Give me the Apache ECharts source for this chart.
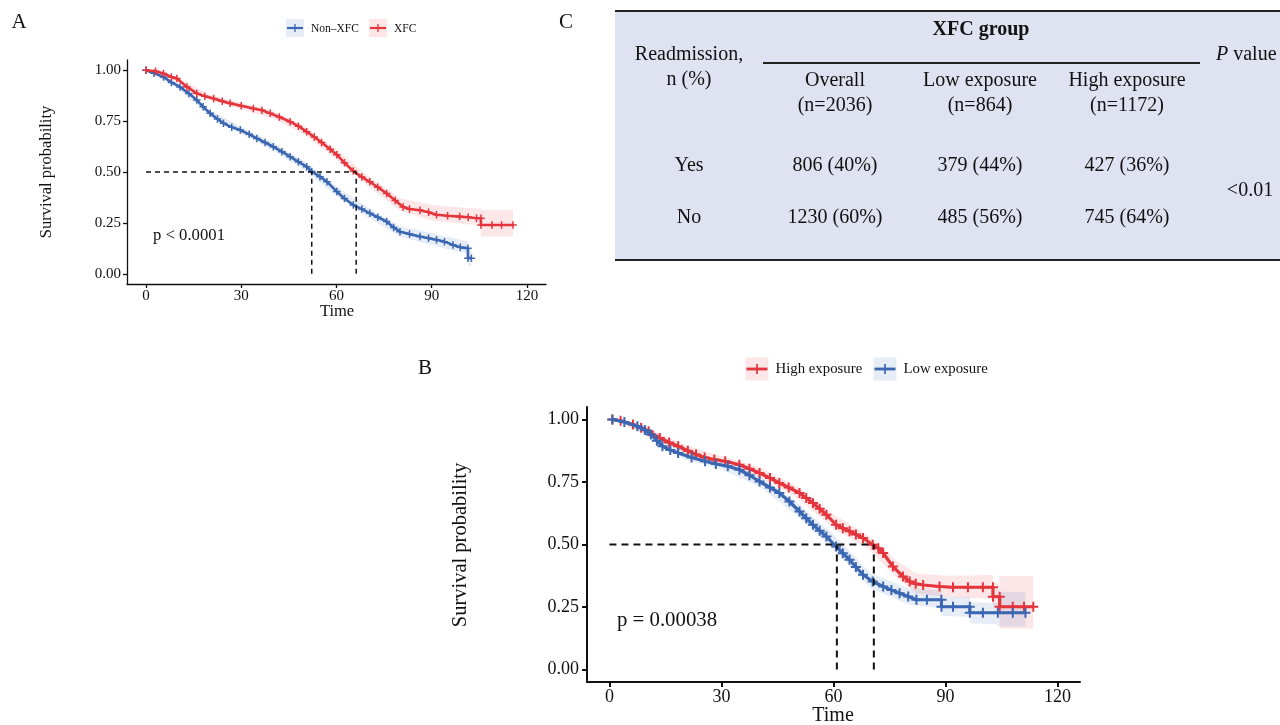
<!DOCTYPE html>
<html>
<head>
<meta charset="utf-8">
<script src="https://cdn.jsdelivr.net/npm/echarts@6/dist/echarts.min.js"></script>
<style>html,body{margin:0;padding:0;background:#fff;}#c{width:1280px;height:725px;}</style>
</head>
<body>
<div id="c"></div>
<script>
// ---------- data ----------
const tickX = [0, 30, 60, 90, 120];
const tickY = [0, 0.25, 0.5, 0.75, 1];

// Panel A
const aXfcT = [0, 3, 5.5, 8, 9.7, 12.9, 16, 18.5, 21.3, 24, 26.5, 30, 33.8, 36.5, 39.1, 42, 45.4, 48, 50.6, 53, 55.3, 58, 60.1, 62.5, 65.3, 68, 70.5, 73, 75.8, 78.5, 81, 83, 86.3, 89, 91.5, 95, 98.8, 101.5, 104.1, 105.5, 105.5, 109, 112, 115.6];
const aXfcS = [1.0, 0.995, 0.984, 0.967, 0.959, 0.918, 0.886, 0.872, 0.861, 0.848, 0.837, 0.825, 0.812, 0.803, 0.788, 0.770, 0.747, 0.725, 0.698, 0.672, 0.645, 0.612, 0.585, 0.545, 0.505, 0.475, 0.452, 0.425, 0.395, 0.36, 0.328, 0.318, 0.312, 0.302, 0.29, 0.285, 0.281, 0.278, 0.273, 0.273, 0.24, 0.24, 0.24, 0.24];
const aNonT = [0, 2.5, 5.5, 8, 10.7, 13.5, 16, 18, 20.2, 22.5, 24.4, 27, 29.7, 32.5, 34.9, 37.5, 40.1, 42.8, 45.4, 48, 50.6, 52.2, 54.8, 57, 60.1, 62.5, 65.3, 68, 70.5, 73, 75.8, 78, 80, 83, 86.3, 89, 91.5, 94, 96.7, 99, 101.4, 101.4, 102.5];
const aNonS = [1.0, 0.985, 0.967, 0.94, 0.918, 0.885, 0.853, 0.82, 0.788, 0.76, 0.739, 0.72, 0.706, 0.685, 0.665, 0.645, 0.624, 0.60, 0.575, 0.55, 0.526, 0.502, 0.477, 0.452, 0.404, 0.37, 0.338, 0.318, 0.297, 0.278, 0.257, 0.228, 0.207, 0.195, 0.183, 0.175, 0.167, 0.158, 0.142, 0.13, 0.126, 0.077, 0.077];
// confidence bands: [time, lower, upper]
const aXfcBand = [[0,1,1],[10,0.948,0.968],[20,0.853,0.878],[30,0.808,0.84],[40,0.763,0.80],[50,0.683,0.725],[60,0.563,0.61],[70,0.43,0.48],[80,0.31,0.372],[90,0.262,0.338],[100,0.245,0.325],[105.5,0.24,0.32],[105.5,0.183,0.314],[115.6,0.183,0.314]];
const aNonBand = [[0,1,1],[10,0.91,0.935],[20,0.775,0.805],[30,0.688,0.722],[40,0.605,0.645],[50,0.508,0.55],[60,0.382,0.43],[70,0.275,0.325],[80,0.183,0.233],[90,0.142,0.2],[97,0.112,0.175],[101.4,0.098,0.16],[101.4,0.04,0.125],[102.5,0.04,0.125]];
const aMedians = [52.2, 66.2];

// Panel B
const bHighT = [0.8, 3, 6.3, 8.5, 10.5, 13.5, 16, 18.4, 21, 23.2, 25.5, 28.1, 31, 34.8, 37.5, 40.2, 43, 45.5, 48, 50.9, 52.7, 54.5, 56.3, 58.1, 60.7, 62.5, 64.3, 66, 67.9, 70.5, 72, 73.3, 75.9, 78.6, 80.4, 82, 84, 88.4, 92, 96, 100, 102.7, 102.7, 104.5, 104.5, 108, 111, 113.5];
const bHighS = [1.0, 0.995, 0.98, 0.967, 0.953, 0.926, 0.908, 0.893, 0.875, 0.86, 0.848, 0.84, 0.833, 0.819, 0.803, 0.786, 0.766, 0.746, 0.728, 0.706, 0.686, 0.666, 0.643, 0.619, 0.579, 0.565, 0.553, 0.54, 0.526, 0.499, 0.485, 0.466, 0.412, 0.372, 0.352, 0.343, 0.338, 0.332, 0.329, 0.329, 0.329, 0.329, 0.291, 0.291, 0.251, 0.251, 0.251, 0.251];
const bLowT = [0.8, 4, 7.5, 9.5, 11.1, 12.7, 14.2, 16.3, 18.4, 22, 25.6, 28.5, 31.7, 34.8, 37.5, 40.2, 43, 45.5, 48.2, 50.9, 52.7, 54.5, 56.3, 58.1, 60.7, 62.5, 64.3, 66, 67.9, 70.5, 73.3, 75.5, 77.7, 80, 82.2, 85, 88.9, 88.9, 92, 96.5, 96.5, 100, 104, 108, 111.4];
const bLowS = [1.0, 0.99, 0.973, 0.958, 0.94, 0.915, 0.893, 0.878, 0.866, 0.848, 0.833, 0.822, 0.813, 0.799, 0.777, 0.752, 0.728, 0.706, 0.672, 0.632, 0.605, 0.579, 0.555, 0.532, 0.492, 0.465, 0.439, 0.41, 0.379, 0.352, 0.332, 0.318, 0.305, 0.292, 0.279, 0.279, 0.279, 0.251, 0.251, 0.251, 0.227, 0.227, 0.227, 0.227, 0.227];
const bHighBand = [[0.8,1,1],[10,0.942,0.968],[20,0.868,0.9],[30,0.818,0.853],[40,0.77,0.81],[50,0.69,0.735],[60,0.565,0.62],[70,0.475,0.53],[76,0.38,0.445],[82,0.305,0.385],[90,0.29,0.375],[102.7,0.283,0.378],[102.7,0.245,0.345],[104.5,0.245,0.345],[104.5,0.164,0.374],[113.5,0.164,0.374]];
const bLowBand = [[0.8,1,1],[10,0.938,0.965],[20,0.842,0.875],[30,0.8,0.837],[40,0.733,0.775],[50,0.618,0.67],[60,0.48,0.54],[70,0.325,0.385],[80,0.26,0.325],[88.9,0.245,0.315],[88.9,0.215,0.29],[96.5,0.21,0.29],[96.5,0.185,0.27],[104,0.18,0.265],[104,0.172,0.31],[111.4,0.172,0.31]];
const bMedians = [60.9, 70.8];

// Table C
const tableCols = ['Overall', 'Low exposure', 'High exposure'];
const tableNs = ['(n=2036)', '(n=864)', '(n=1172)'];
const tableRows = ['Yes', 'No'];
const tableYes = ['806 (40%)', '379 (44%)', '427 (36%)'];
const tableNo = ['1230 (60%)', '485 (56%)', '745 (64%)'];
const tablePValue = '<0.01';

// ---------- styles ----------
const FONT = '"Liberation Serif", "Times New Roman", serif';
const RED = '#E4343C';
const BLUE = '#3B67B2';
const RED_BAND = 'rgba(228,52,60,0.12)';
const BLUE_BAND = 'rgba(59,103,178,0.12)';
const PLUS = 'path://M4,0H6V4H10V6H6V10H4V6H0V4H4Z';

const zip = (t, s) => t.map((v, i) => [v, s[i]]);

function bandSeries(band, color, gi) {
  return {
    type: 'custom', xAxisIndex: gi, yAxisIndex: gi, z: 1, silent: true,
    data: band, encode: { x: 0, y: [1, 2] },
    renderItem: function (params, api) {
      if (params.dataIndex !== 0) return null;
      const pts = [];
      for (let i = 0; i < band.length; i++) pts.push(api.coord([band[i][0], band[i][2]]));
      for (let i = band.length - 1; i >= 0; i--) pts.push(api.coord([band[i][0], band[i][1]]));
      return { type: 'polygon', shape: { points: pts }, style: { fill: color } };
    }
  };
}
function curveSeries(name, t, s, color, gi, size, width, z) {
  return {
    name: name, type: 'line', xAxisIndex: gi, yAxisIndex: gi, z: z,
    data: zip(t, s), symbol: PLUS, symbolSize: size, showAllSymbol: true,
    lineStyle: { color: color, width: width }, itemStyle: { color: color },
    emphasis: { disabled: true }
  };
}
function dashSeries(pts, gi, width, dash) {
  return {
    type: 'line', xAxisIndex: gi, yAxisIndex: gi, z: 5, data: pts, symbol: 'none',
    lineStyle: { color: '#111', width: width, type: dash }, silent: true
  };
}
function medianSeries(meds, gi, width, dash) {
  const out = [dashSeries([[0, 0.5], [Math.max(...meds), 0.5]], gi, width, dash)];
  meds.forEach(m => out.push(dashSeries([[m, 0], [m, 0.5]], gi, width, dash)));
  return out;
}
function xAx(gi, fs, margin, lw, tl) {
  return {
    type: 'value', gridIndex: gi, min: -6, max: 126,
    axisLine: { onZero: false, lineStyle: { color: '#111', width: lw } },
    axisTick: { customValues: tickX, length: tl, lineStyle: { color: '#111', width: lw } },
    axisLabel: { customValues: tickX, fontFamily: FONT, fontSize: fs, color: '#111', margin: margin },
    splitLine: { show: false }
  };
}
function yAx(gi, fs, margin, lw, tl) {
  return {
    type: 'value', gridIndex: gi, min: -0.05, max: 1.05,
    axisLine: { show: true, onZero: false, lineStyle: { color: '#111', width: lw } },
    axisTick: { show: true, customValues: tickY, length: tl, lineStyle: { color: '#111', width: lw } },
    axisLabel: { customValues: tickY, fontFamily: FONT, fontSize: fs, color: '#111', margin: margin,
      formatter: v => v.toFixed(2) },
    splitLine: { show: false }
  };
}
function txt(text, x, y, size, opts) {
  return Object.assign({
    type: 'text', x: x, y: y, silent: true,
    style: Object.assign({ text: text, fontFamily: FONT, fontSize: size, fill: '#111',
      textAlign: 'center', textVerticalAlign: 'middle' }, (opts && opts.style) || {})
  }, (opts && opts.el) || {});
}
function legendItem(cx, cy, sq, color, band, label, fs, lw) {
  return [
    { type: 'rect', shape: { x: cx - sq / 2, y: cy - sq / 2, width: sq, height: sq }, style: { fill: band }, silent: true },
    { type: 'line', shape: { x1: cx - sq / 2 + 1, y1: cy, x2: cx + sq / 2 - 1, y2: cy }, style: { stroke: color, lineWidth: lw }, silent: true },
    { type: 'line', shape: { x1: cx, y1: cy - sq * 0.22, x2: cx, y2: cy + sq * 0.22 }, style: { stroke: color, lineWidth: lw * 0.6 }, silent: true },
    txt(label, cx + sq / 2 + 7, cy + 0.5, fs, { style: { textAlign: 'left' } })
  ];
}

// ---------- graphic (labels, legends, table) ----------
const g = [];
g.push(txt('A', 19, 22, 21));
g.push(txt('B', 425, 368, 21));
g.push(txt('C', 566, 22, 21));
// legends
g.push(...legendItem(295, 28, 18, BLUE, BLUE_BAND, 'Non\u2013XFC', 11.5, 2.2));
g.push(...legendItem(378, 28, 18, RED, RED_BAND, 'XFC', 11.5, 2.2));
g.push(...legendItem(757, 369, 23, RED, RED_BAND, 'High exposure', 14.8, 2.8));
g.push(...legendItem(885, 369, 23, BLUE, BLUE_BAND, 'Low exposure', 14.8, 2.8));
// axis titles
g.push(txt('Survival probability', 47, 172, 16.5, { el: { rotation: Math.PI / 2 } }));
g.push(txt('Time', 337, 312, 16.5));
g.push(txt('Survival probability', 461, 545, 20.5, { el: { rotation: Math.PI / 2 } }));
g.push(txt('Time', 833, 716, 20));
// p values
g.push(txt('p < 0.0001', 153, 236, 16.7, { style: { textAlign: 'left' } }));
g.push(txt('p = 0.00038', 617, 621, 20.8, { style: { textAlign: 'left' } }));
// table
g.push({ type: 'rect', shape: { x: 615, y: 11, width: 665, height: 249 }, style: { fill: '#DFE2F0' }, silent: true });
g.push({ type: 'line', shape: { x1: 615, y1: 11, x2: 1280, y2: 11 }, style: { stroke: '#222', lineWidth: 2 }, silent: true });
g.push({ type: 'line', shape: { x1: 615, y1: 260, x2: 1280, y2: 260 }, style: { stroke: '#222', lineWidth: 2 }, silent: true });
g.push({ type: 'line', shape: { x1: 763, y1: 63, x2: 1200, y2: 63 }, style: { stroke: '#222', lineWidth: 2 }, silent: true });
g.push(txt('XFC group', 981, 30, 20, { style: { fontWeight: 'bold' } }));
g.push(txt('Readmission,', 689, 55, 20));
g.push(txt('n (%)', 689, 80, 20));
g.push(txt('{i|P} value', 1216, 55, 20, { style: { textAlign: 'left', rich: { i: { fontStyle: 'italic', fontFamily: FONT, fontSize: 20, fill: '#111' } } } }));
const colX = [835, 980, 1127];
tableCols.forEach((c, i) => g.push(txt(c, colX[i], 81, 20)));
tableNs.forEach((c, i) => g.push(txt(c, colX[i], 106, 20)));
g.push(txt(tableRows[0], 689, 166, 20));
g.push(txt(tableRows[1], 689, 218, 20));
tableYes.forEach((c, i) => g.push(txt(c, colX[i], 166, 20)));
tableNo.forEach((c, i) => g.push(txt(c, colX[i], 218, 20)));
g.push(txt(tablePValue, 1250, 191, 20));

// ---------- chart ----------
const chart = echarts.init(document.getElementById('c'), null, { renderer: 'canvas' });
chart.setOption({
  animation: false,
  backgroundColor: '#fff',
  grid: [
    { left: 127, top: 60, width: 419, height: 224 },
    { left: 587, top: 407, width: 493, height: 275 }
  ],
  xAxis: [xAx(0, 15, 5, 1.3, 4), xAx(1, 18, 6, 2, 5)],
  yAxis: [yAx(0, 15, 6, 1.3, 4), yAx(1, 18, 8, 2, 5)],
  series: [
    bandSeries(aNonBand, BLUE_BAND, 0),
    bandSeries(aXfcBand, RED_BAND, 0),
    curveSeries('Non\u2013XFC', aNonT, aNonS, BLUE, 0, 7.5, 2.6, 3),
    curveSeries('XFC', aXfcT, aXfcS, RED, 0, 7.5, 2.6, 4),
    ...medianSeries(aMedians, 0, 1.5, [5, 4]),
    bandSeries(bHighBand, RED_BAND, 1),
    bandSeries(bLowBand, BLUE_BAND, 1),
    curveSeries('High exposure', bHighT, bHighS, RED, 1, 10, 3.2, 3),
    curveSeries('Low exposure', bLowT, bLowS, BLUE, 1, 10, 3.2, 4),
    ...medianSeries(bMedians, 1, 2, [7, 5])
  ],
  graphic: g
});
</script>
</body>
</html>
